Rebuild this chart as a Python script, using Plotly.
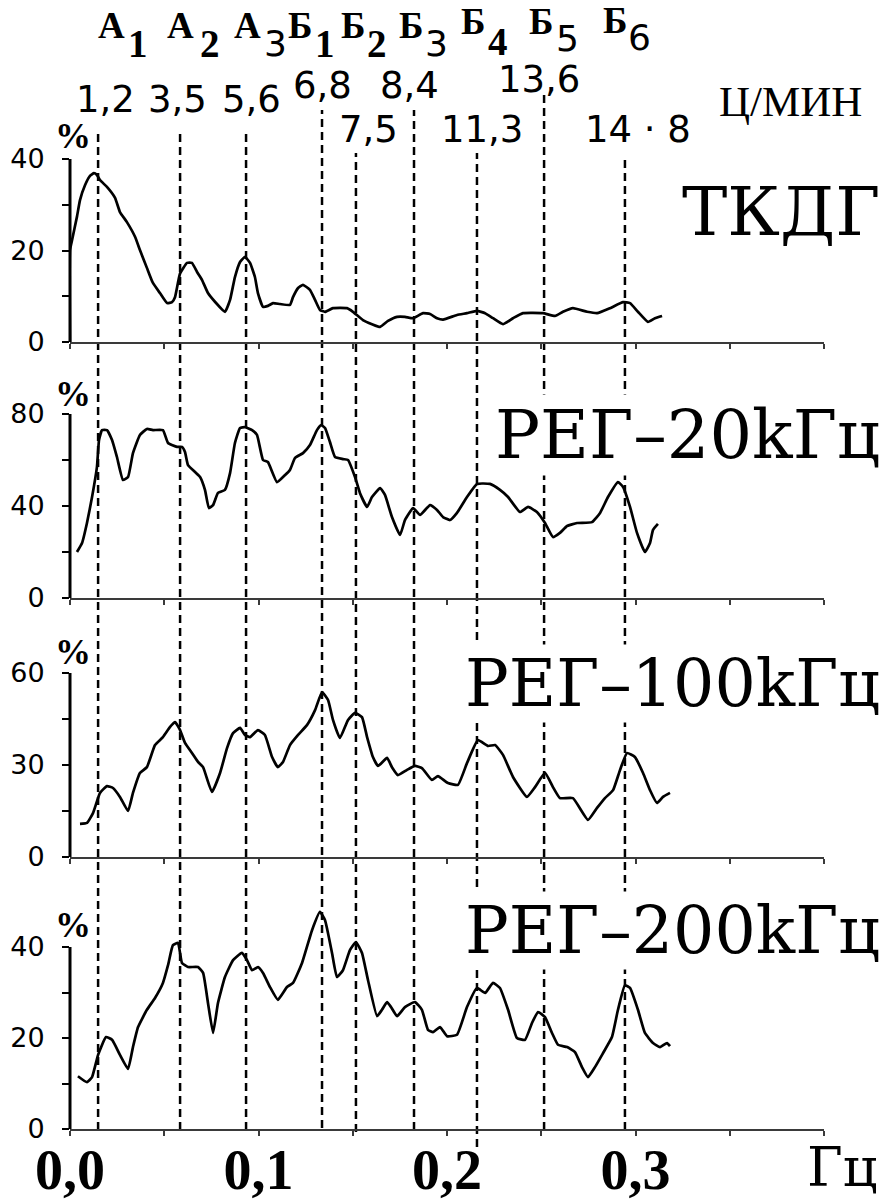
import plotly.graph_objects as go

# ---------------- data ----------------
TKDG_F = [0.0, 0.0, 0.0011, 0.0037, 0.0053, 0.0080, 0.0106, 0.0127, 0.0143, 0.0159, 0.0196, 0.0239,
          0.0265, 0.0302, 0.0345, 0.0371, 0.0408, 0.0440, 0.0477, 0.0515, 0.0541, 0.0557, 0.0584,
          0.0621, 0.0647, 0.0674, 0.0700, 0.0732, 0.0769, 0.0822, 0.0849, 0.0875, 0.0902, 0.0928,
          0.0955, 0.0981, 0.0997, 0.1024, 0.1050, 0.1077, 0.1114, 0.1167, 0.1183, 0.1210, 0.1236,
          0.1273, 0.1300, 0.1326, 0.1353, 0.1395, 0.1469, 0.1501, 0.1554, 0.1602, 0.1645, 0.1687,
          0.1735, 0.1777, 0.1820, 0.1873, 0.1910, 0.1947, 0.1979, 0.2053, 0.2106, 0.2159, 0.2202,
          0.2244, 0.2297, 0.2350, 0.2403, 0.2509, 0.2573, 0.2615, 0.2668, 0.2743, 0.2796, 0.2865,
          0.2934, 0.2971, 0.3013, 0.3066, 0.3103, 0.3141]
TKDG_P = [0, 20.1, 22.3, 27.4, 31.0, 34.3, 36.3, 36.9, 36.5, 35.4, 33.9, 31.5,
          28.4, 26.2, 23.0, 20.1, 16.2, 12.9, 10.7, 8.5, 8.7, 9.8, 15.0,
          17.3, 17.3, 15.3, 13.6, 10.7, 8.8, 6.6, 9.2, 14.2, 17.5, 18.6,
          17.3, 14.2, 10.7, 7.7, 7.9, 8.5, 8.3, 8.1, 9.8, 11.8, 12.5,
          11.4, 9.2, 7.0, 6.6, 7.4, 7.4, 6.6, 4.8, 3.9, 3.3, 4.6,
          5.5, 5.5, 5.2, 6.3, 6.1, 5.2, 4.9, 5.9, 6.3, 6.8, 6.3,
          5.2, 3.9, 5.2, 6.3, 6.3, 5.7, 6.6, 7.4, 6.6, 6.3, 7.4,
          8.7, 8.5, 6.6, 4.4, 5.2, 5.7]

REG20_F = [0.0037, 0.0064, 0.0090, 0.0117, 0.0143, 0.0154, 0.0170, 0.0196, 0.0223, 0.0249, 0.0281,
           0.0308, 0.0334, 0.0371, 0.0408, 0.0440, 0.0493, 0.0520, 0.0568, 0.0594, 0.0610, 0.0626,
           0.0663, 0.0690, 0.0716, 0.0737, 0.0759, 0.0785, 0.0822, 0.0849, 0.0875, 0.0902, 0.0928,
           0.0966, 0.0992, 0.1024, 0.1050, 0.1098, 0.1141, 0.1167, 0.1194, 0.1236, 0.1273, 0.1310,
           0.1332, 0.1353, 0.1379, 0.1406, 0.1448, 0.1475, 0.1512, 0.1538, 0.1576, 0.1602, 0.1645,
           0.1671, 0.1708, 0.1751, 0.1777, 0.1820, 0.1857, 0.1910, 0.1947, 0.1979, 0.2016, 0.2053,
           0.2106, 0.2159, 0.2228, 0.2281, 0.2324, 0.2387, 0.2430, 0.2477, 0.2520, 0.2562, 0.2599,
           0.2637, 0.2690, 0.2769, 0.2812, 0.2854, 0.2907, 0.2934, 0.2971, 0.3008, 0.3050, 0.3077,
           0.3093, 0.3119]
REG20_P = [20.0, 23.9, 32.6, 43.9, 57.0, 68.7, 73.0, 73.0, 68.7, 61.3, 51.3,
           52.6, 63.0, 70.9, 73.5, 73.0, 73.0, 67.4, 65.7, 65.7, 63.5, 57.8,
           54.8, 52.6, 47.0, 39.1, 40.4, 45.7, 47.0, 54.3, 67.4, 73.9, 74.3,
           73.0, 70.9, 60.0, 59.1, 50.4, 53.5, 55.7, 60.9, 63.0, 66.5, 73.0,
           75.2, 73.9, 67.8, 61.3, 60.4, 60.0, 52.6, 45.7, 39.6, 43.9, 47.8,
           44.8, 35.2, 27.4, 33.9, 39.1, 36.1, 40.4, 38.3, 35.2, 33.9, 37.0,
           43.9, 49.6, 49.6, 47.0, 43.9, 37.4, 39.6, 37.4, 32.6, 26.5, 28.3,
           31.3, 32.6, 33.0, 37.0, 43.9, 50.4, 48.3, 39.6, 28.3, 20.0, 23.9,
           29.6, 32.2]

REG100_F = [0.0053, 0.0090, 0.0122, 0.0159, 0.0196, 0.0228, 0.0265, 0.0308, 0.0334, 0.0371, 0.0408,
            0.0451, 0.0493, 0.0531, 0.0557, 0.0584, 0.0610, 0.0647, 0.0679, 0.0706, 0.0753, 0.0796,
            0.0833, 0.0865, 0.0902, 0.0928, 0.0955, 0.0997, 0.1034, 0.1072, 0.1103, 0.1130, 0.1167,
            0.1210, 0.1257, 0.1300, 0.1337, 0.1369, 0.1395, 0.1432, 0.1475, 0.1512, 0.1549, 0.1576,
            0.1607, 0.1634, 0.1682, 0.1708, 0.1740, 0.1788, 0.1830, 0.1867, 0.1920, 0.1952, 0.2005,
            0.2058, 0.2106, 0.2164, 0.2218, 0.2255, 0.2297, 0.2350, 0.2424, 0.2467, 0.2520, 0.2562,
            0.2599, 0.2668, 0.2748, 0.2796, 0.2838, 0.2881, 0.2918, 0.2955, 0.2997, 0.3040, 0.3077,
            0.3114, 0.3146, 0.3183]
REG100_P = [10.8, 11.1, 14.3, 20.9, 23.1, 22.5, 19.6, 15.0, 20.9, 27.4, 29.3,
            36.5, 39.1, 42.4, 44.0, 41.4, 37.2, 33.9, 31.0, 29.3, 21.2, 27.4,
            35.5, 40.4, 42.1, 39.8, 39.1, 41.4, 39.8, 32.6, 29.3, 31.0, 36.5,
            39.8, 43.0, 47.9, 53.8, 51.2, 44.7, 38.8, 44.7, 47.0, 45.6, 39.1,
            32.6, 29.7, 32.3, 29.3, 26.7, 28.4, 29.7, 29.0, 25.1, 26.4, 24.1,
            23.5, 30.6, 38.1, 36.2, 36.5, 33.3, 26.1, 19.6, 22.8, 27.4, 22.8,
            19.2, 19.2, 12.1, 16.0, 19.2, 21.8, 28.4, 33.9, 32.6, 27.4, 21.8,
            17.6, 19.6, 20.9]

REG200_F = [0.0042, 0.0090, 0.0117, 0.0149, 0.0191, 0.0223, 0.0265, 0.0308, 0.0334, 0.0361, 0.0408,
            0.0451, 0.0493, 0.0520, 0.0546, 0.0573, 0.0594, 0.0626, 0.0679, 0.0706, 0.0732, 0.0759,
            0.0785, 0.0822, 0.0865, 0.0912, 0.0939, 0.0966, 0.0997, 0.1024, 0.1061, 0.1103, 0.1151,
            0.1183, 0.1231, 0.1284, 0.1326, 0.1353, 0.1390, 0.1416, 0.1448, 0.1485, 0.1517, 0.1549,
            0.1581, 0.1629, 0.1655, 0.1682, 0.1703, 0.1735, 0.1777, 0.1830, 0.1867, 0.1899, 0.1926,
            0.1963, 0.2000, 0.2053, 0.2106, 0.2159, 0.2202, 0.2244, 0.2281, 0.2324, 0.2371, 0.2414,
            0.2451, 0.2483, 0.2520, 0.2557, 0.2589, 0.2637, 0.2679, 0.2716, 0.2748, 0.2785, 0.2828,
            0.2875, 0.2907, 0.2944, 0.2971, 0.3013, 0.3050, 0.3093, 0.3130, 0.3167, 0.3183]
REG200_P = [11.6, 10.3, 11.4, 16.3, 20.2, 19.6, 16.3, 13.2, 18.0, 22.4, 26.2,
            28.8, 32.1, 36.0, 40.4, 40.9, 36.5, 35.6, 35.6, 34.3, 27.7, 21.1,
            27.7, 33.4, 37.1, 38.7, 37.1, 34.9, 35.6, 34.3, 31.2, 28.4, 31.2,
            32.1, 36.5, 43.7, 47.7, 45.9, 38.7, 33.4, 34.9, 39.3, 41.1, 38.7,
            32.7, 24.8, 26.2, 27.9, 26.8, 24.8, 26.8, 27.9, 26.2, 21.8, 21.3,
            22.4, 20.4, 20.7, 26.8, 31.0, 29.9, 32.1, 31.0, 26.2, 20.0, 19.6,
            23.3, 25.7, 24.6, 21.1, 18.5, 18.0, 16.9, 13.6, 11.4, 13.6, 16.7,
            20.2, 26.2, 31.6, 31.0, 26.2, 21.1, 18.9, 18.0, 18.9, 18.2]

PANEL_NAMES = ["ТКДГ", "РЕГ–20kГц", "РЕГ–100kГц", "РЕГ–200kГц"]
Y_MAX = [40, 80, 60, 40]
Y_TICKS = [[0, 10, 20, 30, 40], [0, 20, 40, 60, 80], [0, 15, 30, 45, 60], [0, 10, 20, 30, 40]]
Y_TICKTEXT = [["0", "", "20", "", "40"], ["0", "", "40", "", "80"],
              ["0", "", "30", "", "60"], ["0", "", "20", "", "40"]]
X_TICKS = [0, 0.05, 0.1, 0.15, 0.2, 0.25, 0.3, 0.35, 0.4]
X_TICKTEXT = ["0,0", "", "0,1", "", "0,2", "", "0,3", "", ""]

# rhythm markers
RHYTHM_HZ = [0.0149, 0.0584, 0.0934, 0.1337, 0.1517, 0.1825, 0.2159, 0.2515, 0.2944]
RHYTHM_LETTER = ["А", "А", "А", "Б", "Б", "Б", "Б", "Б", "Б"]
RHYTHM_INDEX = ["1", "2", "3", "1", "2", "3", "4", "5", "6"]
RHYTHM_CPM = ["1,2", "3,5", "5,6", "6,8", "7,5", "8,4", "11,3", "13,6", "14 · 8"]

# ---------------- layout helpers (window pixel geometry) ----------------
W, H = 890, 1200
def fx(px):
    return px / W
def fy(py):
    return 1 - py / H

X_DOMAIN = [fx(70), fx(824)]
PANEL_PIX = [(342, 159), (598, 414), (857, 673), (1129, 947)]  # pixel of y=0 and y=Y_MAX
HEADROOM = 1.3  # plot area taller than the drawn axis so that peaks are not clipped

series = [(TKDG_F, TKDG_P), (REG20_F, REG20_P), (REG100_F, REG100_P), (REG200_F, REG200_P)]

fig = go.Figure()
layout = dict(width=W, height=H, margin=dict(l=0, r=0, t=0, b=0, autoexpand=False),
              paper_bgcolor="white", plot_bgcolor="rgba(0,0,0,0)", showlegend=False)
shapes = []

for i, (xs, ys) in enumerate(series):
    n = "" if i == 0 else str(i + 1)
    fig.add_trace(go.Scatter(x=xs, y=ys, mode="lines", xaxis="x" + n, yaxis="y" + n,
                             line=dict(color="black", width=2.7, shape="spline", smoothing=0.4),
                             hoverinfo="skip"))
    p0, p1 = PANEL_PIX[i]
    ptop = p0 - (p0 - p1) * HEADROOM
    layout["xaxis" + n] = dict(domain=X_DOMAIN, range=[0, 0.4], anchor="y" + n, automargin=False,
                               showline=True, linecolor="#3a3a3a", linewidth=2,
                               ticks="outside", ticklen=5, tickwidth=2, tickcolor="#3a3a3a",
                               tickvals=X_TICKS, ticktext=X_TICKTEXT,
                               showticklabels=(i == 3), showgrid=False, zeroline=False,
                               tickfont=dict(family="Liberation Serif", size=56, color="black",
                                             weight="bold"),
                               ticklabelstandoff=-14)
    layout["yaxis" + n] = dict(domain=[fy(p0), fy(ptop)], range=[0, Y_MAX[i] * HEADROOM],
                               anchor="x" + n, automargin=False,
                               showline=False,
                               ticks="outside", ticklen=7, tickwidth=2, tickcolor="black",
                               tickvals=Y_TICKS[i], ticktext=Y_TICKTEXT[i],
                               showgrid=False, zeroline=False,
                               tickfont=dict(family="DejaVu Sans", size=27, color="black"),
                               ticklabelstandoff=12)
    # visible y axis line only up to the top tick
    shapes.append(dict(type="line", xref="x" + n + " domain", yref="y" + n, x0=0, x1=0,
                       y0=0, y1=Y_MAX[i], line=dict(color="black", width=3), layer="above"))

# dashed rhythm lines
LINE_TOPS = [133, 133, 133, 110, 153, 110, 153, 95, 158]
LINE_BOTTOMS = [1130, 1130, 1130, 1128, 1132, 1130, 1147, 1130, 1130]
for hz, top, bot in zip(RHYTHM_HZ, LINE_TOPS, LINE_BOTTOMS):
    shapes.append(dict(type="line", xref="x4", yref="paper", x0=hz, x1=hz, y0=fy(bot), y1=fy(top),
                       line=dict(color="black", width=2.5, dash="8px,5px"), layer="below"))
layout["shapes"] = shapes

ann = []
# header letters and subscripts
LETTER_POS = [(111, 25), (180, 25), (247, 25), (300, 25), (353, 25), (411, 25), (473, 22), (541, 22), (615, 21)]
INDEX_POS = [(138, 44), (210, 44), (275, 44), (325, 44), (377, 44), (436, 44), (498, 41), (567, 39), (639, 38)]
INDEX_SERIF = [True, True, False, True, True, False, True, False, False]
for letter, idx, (lx, ly), (ix, iy), serif in zip(RHYTHM_LETTER, RHYTHM_INDEX, LETTER_POS, INDEX_POS, INDEX_SERIF):
    ann.append(dict(text=letter, x=fx(lx), y=fy(ly), xref="paper", yref="paper", showarrow=False,
                    xanchor="center", yanchor="middle",
                    font=dict(family="Liberation Serif", size=37, color="black", weight="bold")))
    ann.append(dict(text=idx, x=fx(ix), y=fy(iy), xref="paper", yref="paper", showarrow=False,
                    xanchor="center", yanchor="middle",
                    font=(dict(family="Liberation Serif", size=39, color="black", weight="bold") if serif
                          else dict(family="DejaVu Sans", size=36, color="black"))))

CPM_POS = [(105, 99), (177, 99), (251, 99), (322, 86), (368, 129), (409, 86), (482, 129), (539, 80), (638, 129)]
for txt, (cx, cy) in zip(RHYTHM_CPM, CPM_POS):
    ann.append(dict(text=txt, x=fx(cx), y=fy(cy), xref="paper", yref="paper", showarrow=False,
                    xanchor="center", yanchor="middle",
                    font=dict(family="DejaVu Sans", size=37, color="black")))
ann.append(dict(text="Ц/МИН", x=fx(790), y=fy(101), xref="paper", yref="paper", showarrow=False,
                xanchor="center", yanchor="middle",
                font=dict(family="Liberation Serif", size=43, color="black")))

# percent signs and panel names
PCT_Y = [136, 394, 652, 925]
NAME_Y = [212, 435, 684, 930]
NAME_SIZE = [68, 67, 65, 65]
for i in range(4):
    ann.append(dict(text="%", x=fx(73), y=fy(PCT_Y[i]), xref="paper", yref="paper", showarrow=False,
                    xanchor="center", yanchor="middle",
                    font=dict(family="Liberation Serif", size=36, color="black", weight="bold")))
    ann.append(dict(text=PANEL_NAMES[i], x=fx(882), y=fy(NAME_Y[i]), xref="paper", yref="paper",
                    showarrow=False, xanchor="right", yanchor="middle", bgcolor="white",
                    font=dict(family="DejaVu Serif", size=NAME_SIZE[i], color="black")))

ann.append(dict(text="Гц", x=fx(842), y=fy(1167), xref="paper", yref="paper", showarrow=False,
                xanchor="center", yanchor="middle",
                font=dict(family="DejaVu Serif", size=54, color="black")))

layout["annotations"] = ann
fig.update_layout(**layout)
# remove the default 8px page margin so that the figure fills the window exactly
fig.write_html("out.html", config={"displayModeBar": False},
               post_script="document.body.style.margin='0';document.body.style.overflow='hidden';")
